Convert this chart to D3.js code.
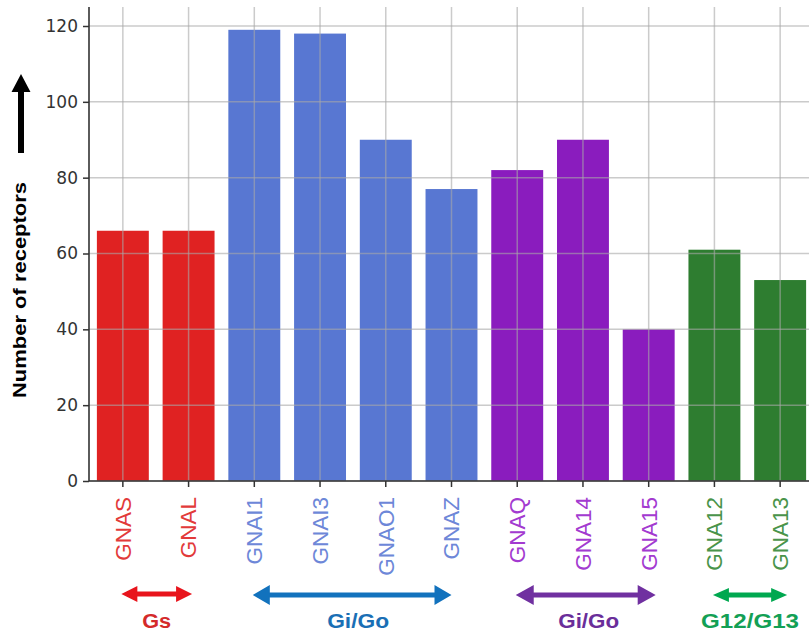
<!DOCTYPE html>
<html><head><meta charset="utf-8">
<script src="https://cdn.jsdelivr.net/npm/d3@7"></script>
<style>body{margin:0;background:#fff;} svg{display:block;}</style>
</head><body>
<svg id="chart" width="809" height="637"></svg>
<script>
// ---- data ----
const categories = ["GNAS","GNAL","GNAI1","GNAI3","GNAO1","GNAZ","GNAQ","GNA14","GNA15","GNA12","GNA13"];
const receptorCounts = [66,66,119,118,90,77,82,90,40,61,53];
const categoryGroup = ["s","s","io","io","io","io","q","q","q","12","12"];
const yTicks = [0,20,40,60,80,100,120];
const groupKeys = ["s","io","q","12"];
const groupLabels = ["Gs","Gi/Go","Gi/Go","G12/G13"];
const groupFirst = ["GNAS","GNAI1","GNAQ","GNA12"];
const groupLast = ["GNAL","GNAZ","GNA15","GNA13"];
const yLabel = "Number of receptors";

// ---- styles ----
const barColor = {s:"#e02222", io:"#5877d2", q:"#8a1cbe", "12":"#2e7d30"};
const tickTextColor = {s:"#e23a3a", io:"#6d87d8", q:"#a33ad0", "12":"#4a944a"};
const arrowColor = {s:"#e8141c", io:"#1272bd", q:"#7030a0", "12":"#00a850"};
const groupTextColor = {s:"#d42a2a", io:"#1a6fb5", q:"#6a2e9a", "12":"#13a055"};
const groupTextLen = {s:29, io:62, q:61, "12":98};

const svg = d3.select("#chart");
const x = d3.scaleBand().domain(categories).range([89, 814]).paddingInner(0.21).paddingOuter(0.12);
const y = d3.scaleLinear().domain([0, 120]).range([481, 26]);
const yTop = y(125);

// bars
svg.append("g").selectAll("rect").data(categories).join("rect")
  .attr("x", d => x(d)).attr("width", x.bandwidth())
  .attr("y", (d,i) => y(receptorCounts[i]))
  .attr("height", (d,i) => y(0) - y(receptorCounts[i]))
  .attr("fill", (d,i) => barColor[categoryGroup[i]]);

// grid on top (semi-transparent)
const grid = svg.append("g").attr("stroke", "#a8a8a8").attr("stroke-opacity", 0.6).attr("stroke-width", 1.5);
grid.selectAll("line.h").data(yTicks).join("line").attr("class","h")
  .attr("x1", 89).attr("x2", 809).attr("y1", d => y(d)).attr("y2", d => y(d));
grid.selectAll("line.v").data(categories).join("line").attr("class","v")
  .attr("x1", d => x(d) + x.bandwidth()/2).attr("x2", d => x(d) + x.bandwidth()/2)
  .attr("y1", yTop).attr("y2", y(0));

// y axis
const yAxis = d3.axisLeft(y).tickValues(yTicks).tickSize(6).tickPadding(5);
const gy = svg.append("g").attr("transform", "translate(89,0)").call(yAxis);
gy.select(".domain").remove();
gy.selectAll(".tick line").attr("stroke", "#333").attr("stroke-width", 1.5);
gy.selectAll(".tick text").attr("fill", "#333").attr("font-family", "DejaVu Sans").attr("font-size", 17);
svg.append("line").attr("x1", 89).attr("x2", 89).attr("y1", yTop).attr("y2", y(0))
  .attr("stroke", "#333").attr("stroke-width", 1.6);

// x axis
const xAxis = d3.axisBottom(x).tickSize(6).tickSizeOuter(0);
const gx = svg.append("g").attr("transform", `translate(0,${y(0)})`).call(xAxis);
gx.select(".domain").remove();
gx.selectAll(".tick line").attr("stroke", "#333").attr("stroke-width", 1.5);
gx.selectAll(".tick text")
  .attr("font-family", "Liberation Sans, Arial, sans-serif").attr("font-size", 22.5)
  .attr("fill", (d,i) => tickTextColor[categoryGroup[i]])
  .attr("text-anchor", "end").attr("dy", "0.35em").attr("y", 0)
  .attr("transform", "translate(0,16) rotate(-90)");
svg.append("line").attr("x1", 89).attr("x2", 809).attr("y1", y(0)).attr("y2", y(0))
  .attr("stroke", "#333").attr("stroke-width", 1.6);

// y label
svg.append("text").attr("transform", "translate(26,290) rotate(-90)")
  .attr("text-anchor", "middle").attr("font-family", "Liberation Sans, Arial, sans-serif")
  .attr("font-weight", "bold").attr("font-size", 18).attr("fill", "#000")
  .attr("textLength", 216).attr("lengthAdjust", "spacingAndGlyphs").text(yLabel);

// up arrow
svg.append("path").attr("fill", "#000")
  .attr("d", "M18,153 L24,153 L24,92 L30.5,92 L21,74 L11.5,92 L18,92 Z");

// group arrows + labels
function dblArrow(x1, x2, cy, hl, hh, sw) {
  return `M${x1},${cy} L${x1+hl},${cy-hh} L${x1+hl},${cy-sw} L${x2-hl},${cy-sw} L${x2-hl},${cy-hh} L${x2},${cy} L${x2-hl},${cy+hh} L${x2-hl},${cy+sw} L${x1+hl},${cy+sw} L${x1+hl},${cy+hh} Z`;
}
const headH = {s:8, io:10, q:10, "12":7};
const headL = {s:16, io:17, q:18, "12":16};
groupKeys.forEach((k, i) => {
  const x1 = x(groupFirst[i]) + x.bandwidth()/2 - 1.5;
  const x2 = x(groupLast[i]) + x.bandwidth()/2 + (k === "s" ? 3.5 : k === "io" ? 0 : 7);
  const cy = k === "s" ? 594 : 595;
  svg.append("path").attr("fill", arrowColor[k]).attr("d", dblArrow(x1, x2, cy, headL[k], headH[k], 2.6));
  const cx = k === "io" ? (x1 + x2)/2 + 6 : (x1 + x2)/2 + (k === "q" ? 3 : 0);
  svg.append("text").attr("x", cx).attr("y", 627.5).attr("text-anchor", "middle")
    .attr("font-family", "Liberation Sans, Arial, sans-serif").attr("font-weight", "bold")
    .attr("font-size", 19.5).attr("fill", groupTextColor[k])
    .attr("textLength", groupTextLen[k]).attr("lengthAdjust", "spacingAndGlyphs")
    .text(groupLabels[i]);
});
</script>
</body></html>
